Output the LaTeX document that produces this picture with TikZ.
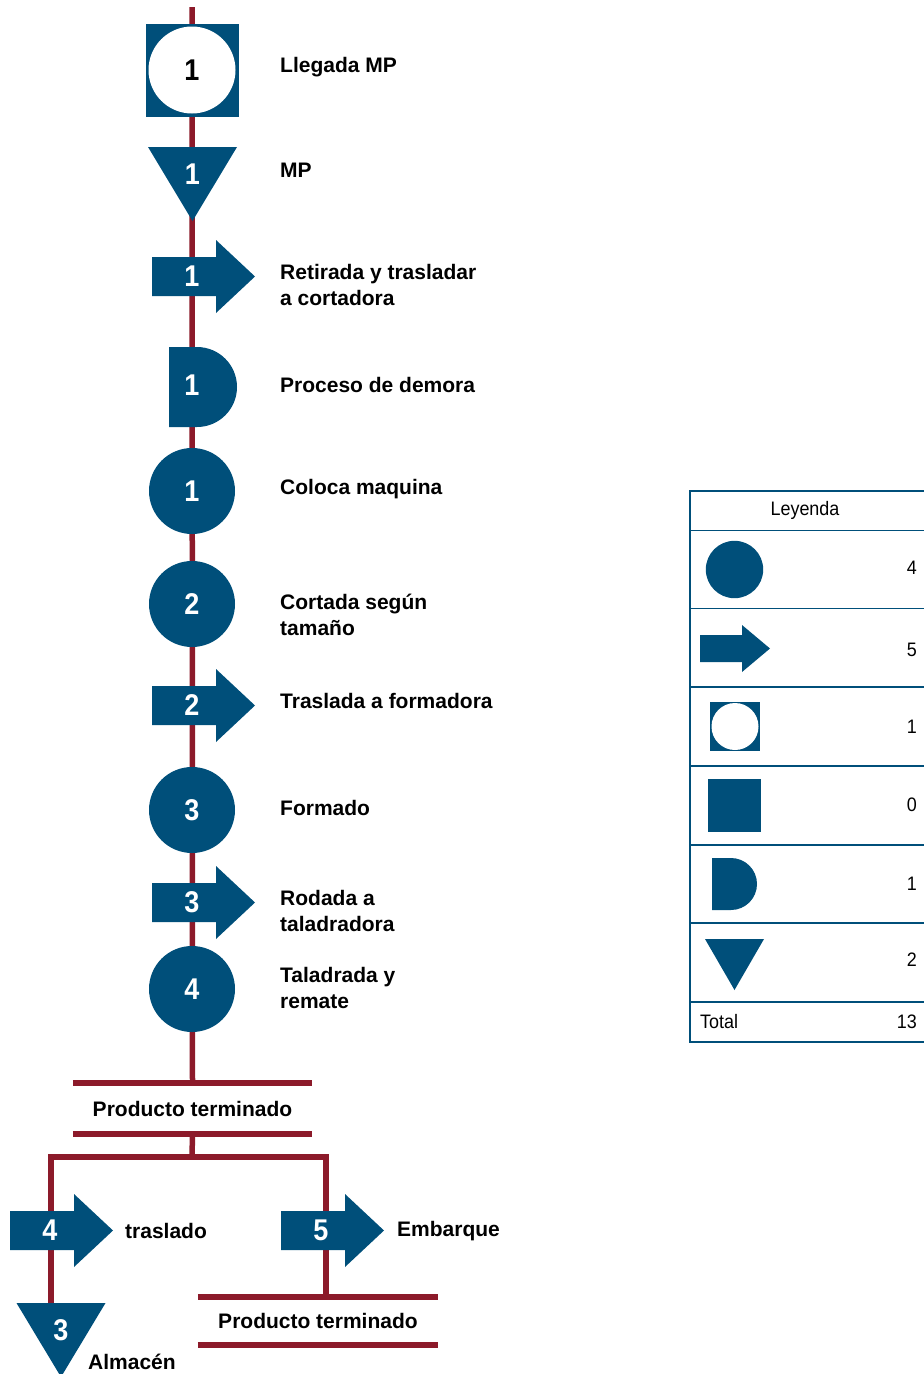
\documentclass[tikz,border=0pt]{standalone}
\usepackage{fontspec}
\setmainfont{Liberation Sans}
\newfontfamily\numfont[FakeStretch=0.9]{Liberation Sans}
\newfontfamily\leyfont[FakeStretch=0.92]{Liberation Sans}
\usetikzlibrary{backgrounds}

\definecolor{azul}{HTML}{004F7A}
\definecolor{vino}{HTML}{8C1A2A}

\tikzset{
  linea/.style={vino, line width=5.5pt},
  borde/.style={azul, line width=1.5pt},
  numero/.style={text=white, inner sep=0pt, font=\numfont\bfseries\fontsize{30}{30}\selectfont},
  etiqueta/.style={anchor=west, align=left, inner sep=0pt, font=\bfseries\fontsize{21}{26}\selectfont},
  leyenda/.style={inner sep=0pt, font=\leyfont\fontsize{19.5}{19.5}\selectfont},
  operacion/.style={circle, fill=azul, minimum size=86pt, numero},
  flecha/.pic={
    \fill[azul] (-40,19.5) -- (24,19.5) -- (24,36.5) -- (63,0) -- (24,-36.5) -- (24,-19.5) -- (-40,-19.5) -- cycle;
    \node[numero] (-n) at (0,0) {#1};
  },
  demora/.pic={
    \fill[azul] (-23,40) -- (5,40) arc[start angle=90,end angle=-90,radius=40] -- (-23,-40) -- cycle;
    \node[numero] (-n) at (0,2) {#1};
  },
  almacen/.pic={
    \fill[azul] (-44.5,0) -- (44.5,0) -- (0,-74) -- cycle;
    \coordinate (-top) at (0,0);
    \node[numero] (-n) at (0,-27) {#1};
  },
}

\begin{document}
\begin{tikzpicture}[x=1pt,y=1pt]
  \useasboundingbox (0,0) rectangle (924,-1374);

  % recorrido principal
  \coordinate (inicio) at (192,-7);
  \node[fill=azul, minimum size=93pt, inner sep=0pt] (insp) at (192,-70) {};
  \node[circle, fill=white, minimum size=87pt, numero, text=black] (insp-n) at (insp) {1};
  \pic (t1) at (192.5,-147) {almacen=1};
  \pic (f1) at (192,-276.5) {flecha=1};
  \pic (d1) at (192,-387) {demora=1};
  \node[operacion] (o1) at (192,-491) {1};
  \node[operacion] (o2) at (192,-604) {2};
  \pic (f2) at (192,-705.5) {flecha=2};
  \node[operacion] (o3) at (192,-810) {3};
  \pic (f3) at (192,-902.5) {flecha=3};
  \node[operacion] (o4) at (192,-989) {4};

  \node[etiqueta] (e1) at (280,-67) {Llegada MP};
  \node[etiqueta] (e2) at (280,-170) {MP};
  \node[etiqueta] (e3) at (280,-285) {Retirada y trasladar\\a cortadora};
  \node[etiqueta] (e4) at (280,-385) {Proceso de demora};
  \node[etiqueta] (e5) at (280,-489) {Coloca maquina};
  \node[etiqueta] (e6) at (280,-615) {Cortada según\\tamaño};
  \node[etiqueta] (e7) at (280,-701) {Traslada a formadora};
  \node[etiqueta] (e8) at (280,-808) {Formado};
  \node[etiqueta] (e9) at (280,-911) {Rodada a\\taladradora};
  \node[etiqueta] (e10) at (280,-988) {Taladrada y\\remate};

  % producto terminado y ramales
  \node[etiqueta, anchor=center, minimum width=239pt, minimum height=51pt] (pt1) at (192.5,-1108.5) {Producto terminado};
  \draw[linea] (pt1.north west) -- (pt1.north east);
  \draw[linea] (pt1.south west) -- (pt1.south east);
  \coordinate (rama) at (192,-1157);
  \coordinate (izq) at (51,-1157);
  \coordinate (der) at (326,-1157);
  \pic (f4) at (50,-1230.5) {flecha=4};
  \pic (f5) at (321,-1230.5) {flecha=5};
  \pic (t2) at (61,-1303) {almacen=3};
  \node[etiqueta, anchor=center, minimum width=240pt, minimum height=48pt] (pt2) at (318,-1321) {Producto terminado};
  \draw[linea] (pt2.north west) -- (pt2.north east);
  \draw[linea] (pt2.south west) -- (pt2.south east);
  \node[etiqueta] (e11) at (125,-1231) {traslado};
  \node[etiqueta] (e12) at (397,-1231) {Embarque};
  \node[etiqueta] (e13) at (88,-1362) {Almacén};

  \begin{scope}[on background layer]
    \draw[linea] (inicio) -- (pt1.north);
    \draw[linea] (pt1.south) -- (rama);
    \draw[linea] (izq |- t2-top) -- (izq) -- (der) -- (der |- pt2.north);
  \end{scope}

  % leyenda
  \draw[borde] (690,-491) rectangle (930,-1042);
  \draw[borde] (690,-530.5) -- (930,-530.5);
  \draw[borde] (690,-608.5) -- (930,-608.5);
  \draw[borde] (690,-687) -- (930,-687);
  \draw[borde] (690,-766) -- (930,-766);
  \draw[borde] (690,-845) -- (930,-845);
  \draw[borde] (690,-923) -- (930,-923);
  \draw[borde] (690,-1002) -- (930,-1002);
  \node[leyenda] (ley) at (805,-510) {Leyenda};
  \fill[azul] (734.5,-569.5) circle[radius=28.7];
  \fill[azul] (700,-635) -- (742,-635) -- (742,-625) -- (770,-648.5) -- (742,-672) -- (742,-662) -- (700,-662) -- cycle;
  \fill[azul] (710,-702) rectangle (760,-751);
  \fill[white] (735,-726.5) circle[radius=23.5];
  \fill[azul] (708,-779) rectangle (761,-832);
  \fill[azul] (712,-858) -- (731,-858) arc[start angle=90,end angle=-90,radius=26] -- (712,-910) -- cycle;
  \fill[azul] (705,-939) -- (764,-939) -- (734.5,-990) -- cycle;
  \node[leyenda, anchor=east] (n1) at (917,-568) {4};
  \node[leyenda, anchor=east] (n2) at (917,-650) {5};
  \node[leyenda, anchor=east] (n3) at (917,-727) {1};
  \node[leyenda, anchor=east] (n4) at (917,-805) {0};
  \node[leyenda, anchor=east] (n5) at (917,-884) {1};
  \node[leyenda, anchor=east] (n6) at (917,-960) {2};
  \node[leyenda, anchor=west] (tot) at (700,-1022) {Total};
  \node[leyenda, anchor=east] (n7) at (917,-1022) {13};
\end{tikzpicture}
\end{document}
